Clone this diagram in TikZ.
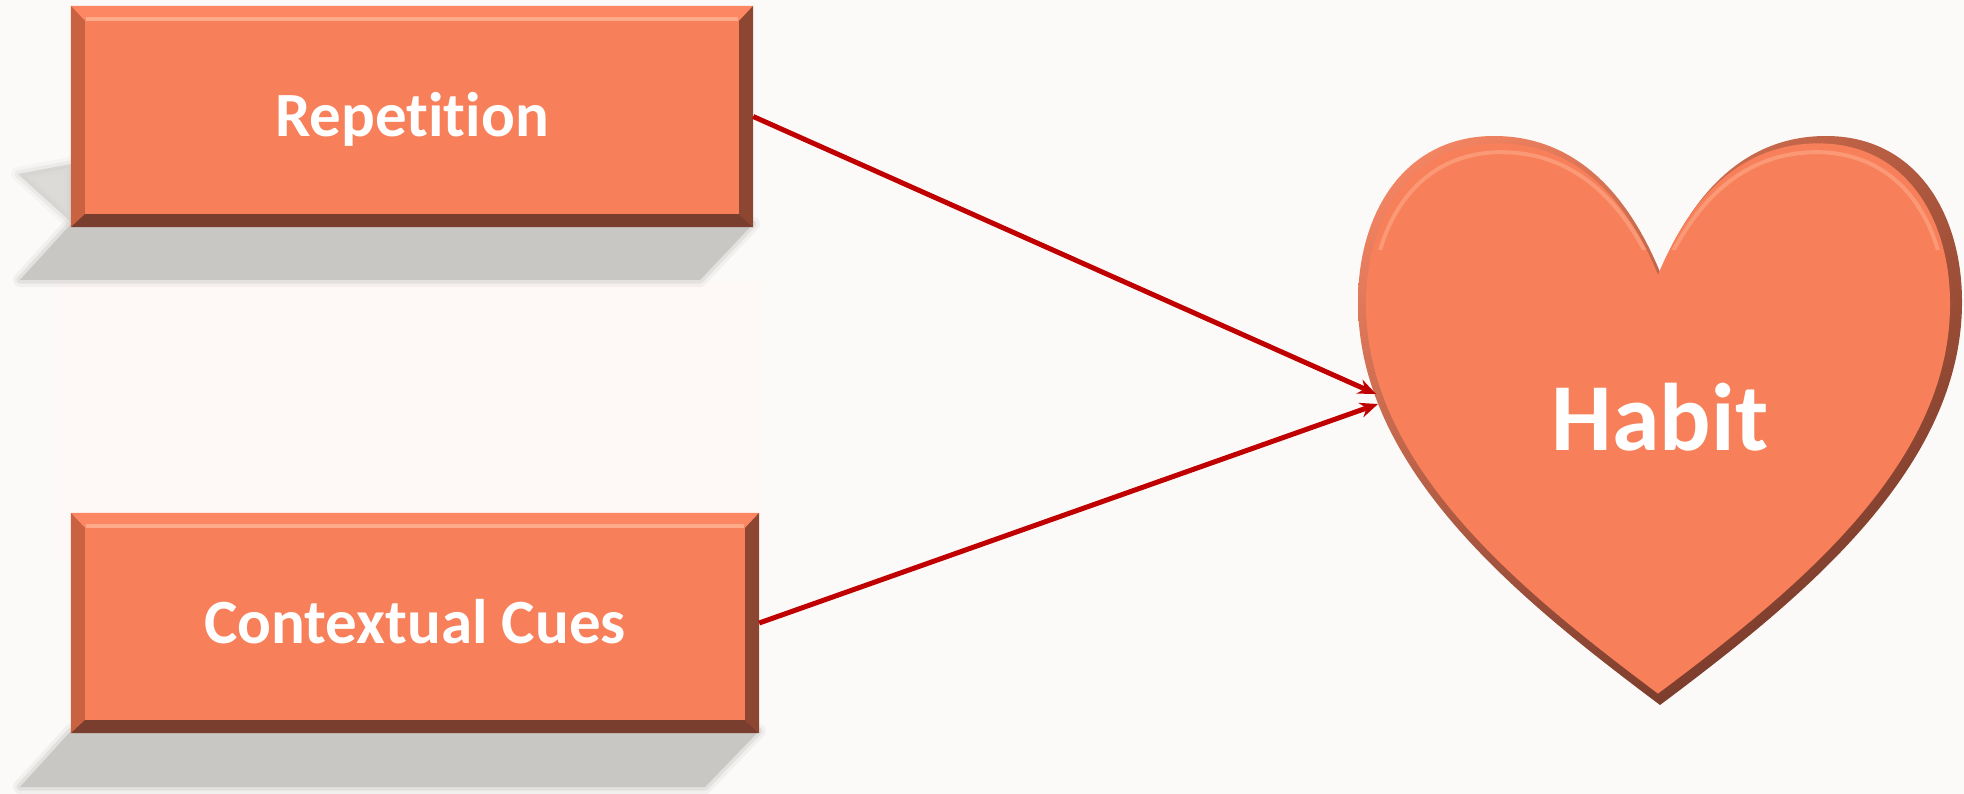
\documentclass[tikz,border=0pt]{standalone}
\usepackage{fontspec}
\setmainfont{Carlito}[RawFeature={-liga;-clig;-dlig}]
\usetikzlibrary{calc,arrows.meta,shadings}
\definecolor{bgc}{RGB}{251,250,248}
\definecolor{boxc}{RGB}{247,127,90}
\definecolor{bevtopc}{RGB}{253,135,98}
\definecolor{hilitec}{RGB}{255,170,136}
\definecolor{bevleftc}{RGB}{200,98,65}
\definecolor{bevrightc}{RGB}{140,70,50}
\definecolor{bevbotc}{RGB}{122,62,46}
\definecolor{arrowc}{RGB}{192,0,0}
\definecolor{shadowc}{RGB}{201,199,196}
\definecolor{reflc}{RGB}{254,249,246}
\definecolor{hul}{RGB}{255,140,105}
\definecolor{hur}{RGB}{175,88,62}
\definecolor{hll}{RGB}{150,75,55}
\definecolor{hlr}{RGB}{100,48,35}
\newcommand\habitheart{(1660,272) .. controls (1622,180) and (1565,136) .. (1494,136) .. controls (1405,136) and (1358,212) .. (1358,302) .. controls (1358,470) and (1520,600) .. (1660,705) .. controls (1800,600) and (1962,470) .. (1962,302) .. controls (1962,212) and (1915,136) .. (1826,136) .. controls (1755,136) and (1698,180) .. (1660,272) -- cycle}
\newcommand\bevelon[1]{%
  \fill[bevtopc] (#1.north west) -- (#1.north east) -- ($(#1.north east)+(-14,15)$) -- ($(#1.north west)+(14,15)$) -- cycle;
  \draw[hilitec, line width=4pt] ($(#1.north west)+(15,13)$) -- ($(#1.north east)+(-15,13)$);
  \fill[bevleftc] (#1.north west) -- ($(#1.north west)+(14,15)$) -- ($(#1.south west)+(14,-13)$) -- (#1.south west) -- cycle;
  \fill[bevrightc] (#1.north east) -- ($(#1.north east)+(-14,15)$) -- ($(#1.south east)+(-14,-13)$) -- (#1.south east) -- cycle;
  \fill[bevbotc] (#1.south west) -- ($(#1.south west)+(14,-13)$) -- ($(#1.south east)+(-14,-13)$) -- (#1.south east) -- cycle;
}
\tikzset{
  boxface/.style={fill=boxc, inner sep=0pt, text=white,
    font=\fontsize{63}{70}\selectfont\bfseries, text height=40pt, text depth=0pt},
  conn/.style={draw=arrowc, line width=5pt, -{Stealth[length=18pt,width=15pt]}},
}
\begin{document}
\begin{tikzpicture}[x=1pt,y=-1pt]
\useasboundingbox[fill=bgc] (0,0) rectangle (1964,794);
% faint reflection
\fill[reflc] (60,282) rectangle (760,560);
% shadows (soft edges)
\foreach \w/\o in {14/0.18,7/0.35}{
  \draw[shadowc, line width=\w pt, opacity=\o, line join=round]
    (71,224) -- (753,224) -- (700,280) -- (20,280) -- cycle;
  \draw[shadowc, line width=\w pt, opacity=\o*0.6, line join=round]
    (18,174) -- (71,164) -- (71,222) -- cycle;
  \draw[shadowc, line width=\w pt, opacity=\o, line join=round]
    (71,731) -- (759,731) -- (705,787) -- (20,787) -- cycle;
}
\fill[shadowc] (71,224) -- (753,224) -- (700,280) -- (20,280) -- cycle;
\fill[shadowc, opacity=0.6] (18,174) -- (71,164) -- (71,222) -- cycle;
\fill[shadowc] (71,731) -- (759,731) -- (705,787) -- (20,787) -- cycle;
% boxes
\node[boxface, minimum width=682pt, minimum height=221pt] (rep) at (412,116.5) {Repetition};
\bevelon{rep}
\node[boxface, minimum width=688pt, minimum height=220pt] (ctx) at (415,623) {Contextual Cues};
\bevelon{ctx}
% heart
\shade[upper left=hul, upper right=hur, lower left=hll, lower right=hlr] \habitheart;
\begin{scope}[shift={(1658,418)}, scale=0.967, shift={(-1660,-420)}]
  \fill[boxc] \habitheart;
\end{scope}
\begin{scope}
  \clip (1340,120) rectangle (1980,250);
  \begin{scope}[shift={(1659,422)}, scale=0.95, shift={(-1660,-420)}]
    \draw[hilitec, line width=4pt, opacity=0.6] \habitheart;
  \end{scope}
\end{scope}
\node[inner sep=0pt, text=white, font=\fontsize{96}{110}\selectfont\bfseries, text height=62pt, text depth=0pt] (habit) at (1660,419) {Habit};
\coordinate (in1) at (1376,394);
\coordinate (in2) at (1378,404);
% connectors
\draw[conn] (rep.east) -- (in1);
\draw[conn] (ctx.east) -- (in2);
\end{tikzpicture}
\end{document}
